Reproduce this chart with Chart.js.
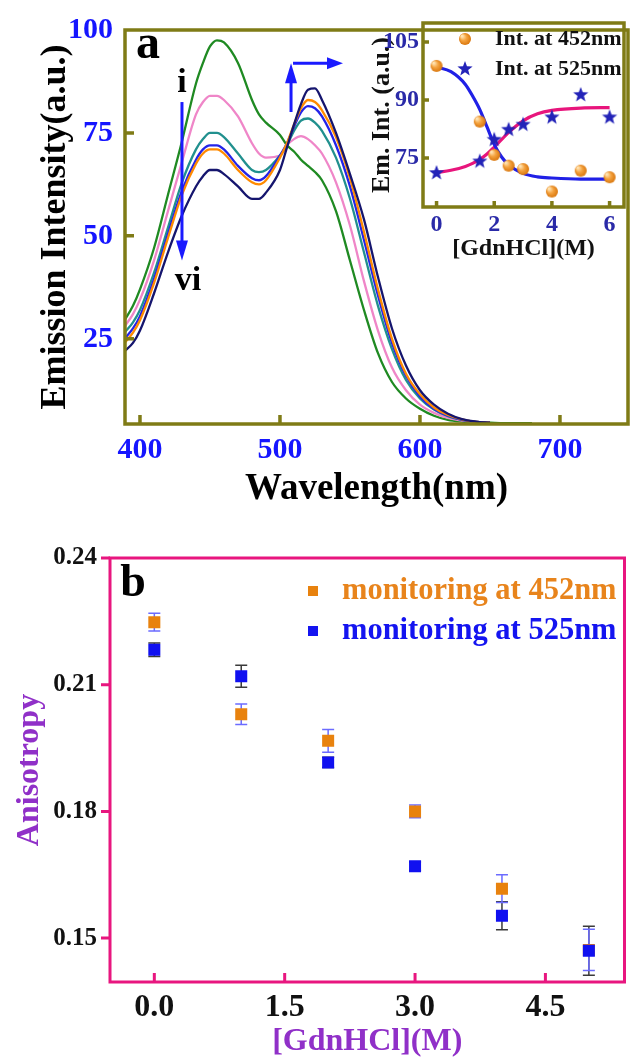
<!DOCTYPE html>
<html>
<head>
<meta charset="utf-8">
<script src="https://cdn.jsdelivr.net/npm/chart.js@4.4.1/dist/chart.umd.min.js"></script>
<style>
	html, body { margin: 0; padding: 0; background: #fff; }
	#wrap { position: relative; width: 633px; height: 1061px; overflow: hidden; }
	canvas { position: absolute; }
</style>
</head>
<body>
<div id="wrap">
	<canvas id="spectra" width="633" height="520" style="left:0;top:0"></canvas>
	<canvas id="inset" width="303" height="265" style="left:330px;top:0"></canvas>
	<canvas id="aniso" width="633" height="531" style="left:0;top:530px"></canvas>
</div>
<script>
// ---- panel a: emission spectra (i -> vi) ----
const wavelengths = [389, 395, 400, 410, 420, 430, 440, 445, 450, 455, 460, 470, 480, 485, 490, 500, 505, 510, 515, 520, 525, 530, 540, 550, 560, 570, 580, 590, 600, 610, 620, 630, 640, 650, 660, 670, 680];
const spectrumI = [29.5, 33, 37, 47, 60, 73, 87, 92, 96, 97.5, 97, 92, 83, 79.5, 77.5, 74.5, 72, 70.5, 68.5, 67, 65.5, 63.5, 56, 44, 32, 21.5, 14.5, 10.5, 8, 6.3, 5.3, 4.9, 4.7, 4.6, 4.5, 4.5, 4.5];
const spectrumII = [28, 31, 34.5, 44, 56, 68, 79.5, 82.5, 84, 84, 83, 79, 72.5, 70, 69, 69.5, 72, 73.5, 74.2, 73.5, 72, 70, 63, 52.5, 39, 27, 18, 12.5, 9, 7, 5.8, 5.1, 4.8, 4.6, null, null, null];
const spectrumIII = [26.5, 29, 32, 41, 52, 63, 71, 73.5, 75, 75, 74, 70, 66, 65.5, 66, 69.5, 72, 75.5, 78, 78.5, 77.5, 75.5, 69, 59, 46, 33, 22.5, 15, 10.5, 7.8, 6.2, 5.3, 4.8, 4.6, null, null, null];
const spectrumIV = [25, 27.5, 30.5, 39.5, 50.5, 61, 68.5, 71, 72, 72, 71, 67, 64, 63.5, 64.5, 69.5, 72.5, 76.5, 80, 81.5, 81, 79, 72, 62, 49, 35.5, 24, 16, 11, 8, 6.3, 5.3, 4.8, 4.6, null, null, null];
const spectrumV = [24, 26.5, 29.5, 38.5, 49.5, 60, 67.5, 70, 71, 71, 70, 66, 63, 62.5, 63.5, 69, 72.5, 77, 81, 83, 82.5, 80.5, 74, 64, 51, 37, 25, 16.5, 11.5, 8.3, 6.5, 5.4, 4.8, 4.6, null, null, null];
const spectrumVI = [22, 24, 27, 36, 46, 55, 62, 64.5, 66, 66, 65, 62, 59, 59, 60.5, 66, 71.5, 77, 82, 85.5, 85.8, 83, 75, 65, 54, 40, 27.5, 18.5, 12.5, 9, 6.8, 5.5, 4.9, 4.6, null, null, null];
const spectraColors = ["#1f8a22", "#ef86c8", "#21908e", "#2424e8", "#ff8a00", "#15156e"];
const waveTicks = [400, 500, 600, 700];
const intensityTicks = [25, 50, 75, 100];

// ---- inset: intensity vs [GdnHCl] ----
const denaturant = [0, 1.5, 2, 2.5, 3, 4, 5, 6];
const int452 = [98.8, 84.4, 75.8, 73, 72.1, 66.3, 71.7, 70];
const int525 = [71.1, 74.1, 79.7, 82.3, 83.6, 85.5, 91.3, 85.5];
const fitX = [0, 0.5, 1, 1.25, 1.5, 1.75, 2, 2.25, 2.5, 3, 3.5, 4, 5, 6];
const fit452 = [98.5, 97.3, 94, 91, 87.5, 83, 78.5, 75.3, 73.2, 71, 70.1, 69.8, 69.5, 69.5];
const fit525 = [71.2, 71.8, 72.8, 73.6, 74.6, 76, 77.8, 79.7, 81.6, 84.6, 86.4, 87.3, 87.9, 88];
const insetXTicks = [0, 2, 4, 6];
const insetYTicks = [75, 90, 105];

// ---- panel b: anisotropy ----
const gdn = [0, 1, 2, 3, 4, 5];
const aniso452 = [0.2248, 0.2030, 0.1967, 0.1800, 0.1617, 0.1472];
const err452 = [0.0021, 0.0024, 0.0027, 0.0015, 0.0033, 0.0049];
const aniso525 = [0.2183, 0.2120, 0.1916, 0.1670, 0.1553, 0.1470];
const err525 = [0.0016, 0.0026, 0.0012, 0.0010, 0.0033, 0.0058];
const gdnTicks = [0, 1.5, 3, 4.5];
const anisoTicks = [0.15, 0.18, 0.21, 0.24];

Chart.defaults.font.family = '"Liberation Serif", "Times New Roman", serif';
Chart.defaults.font.weight = "bold";

const OLIVE = "#7f7b16";
const MAGENTA = "#e8167f";
const TICK_BLUE = "#1515ff";
const INSET_BLUE = "#2a2aa8";
const PURPLE = "#9030c8";

// frame around chart area + tick marks (inward or outward)
function frameTicks(id, cfg) {
	return {
		id,
		afterDatasetsDraw(chart) {
			const { ctx, chartArea: a, scales: { x, y } } = chart;
			ctx.save();
			ctx.strokeStyle = cfg.color;
			ctx.lineWidth = cfg.width;
			ctx.strokeRect(a.left, a.top, a.right - a.left, a.bottom - a.top);
			ctx.beginPath();
			cfg.xTicks.forEach((v) => {
				const px = x.getPixelForValue(v);
				ctx.moveTo(px, a.bottom);
				ctx.lineTo(px, a.bottom + (cfg.xIn ? -cfg.len : cfg.len));
			});
			cfg.yTicks.forEach((v) => {
				const py = y.getPixelForValue(v);
				ctx.moveTo(a.left, py);
				ctx.lineTo(a.left + (cfg.yIn ? cfg.len : -cfg.len), py);
			});
			ctx.stroke();
			ctx.restore();
		},
	};
}

function arrowHead(ctx, x, y, dx, dy, len, half) {
	const n = Math.hypot(dx, dy);
	const ux = dx / n, uy = dy / n;
	ctx.beginPath();
	ctx.moveTo(x, y);
	ctx.lineTo(x - ux * len - uy * half, y - uy * len + ux * half);
	ctx.lineTo(x - ux * len + uy * half, y - uy * len - ux * half);
	ctx.closePath();
	ctx.fill();
}

const spectraNotes = {
	id: "spectraNotes",
	afterDraw(chart) {
		const { ctx, chartArea: a, scales: { x, y } } = chart;
		ctx.save();
		ctx.fillStyle = "#000";
		ctx.font = 'bold 48px "Liberation Serif"';
		ctx.textAlign = "center";
		ctx.textBaseline = "middle";
		ctx.fillText("a", a.left + 23, a.top + 16);
		ctx.font = 'bold 34px "Liberation Serif"';
		ctx.textBaseline = "alphabetic";
		ctx.fillText("i", x.getPixelForValue(430), y.getPixelForValue(84.9));
		ctx.fillText("vi", x.getPixelForValue(434.3), y.getPixelForValue(36.8));

		ctx.strokeStyle = "#1a1aff";
		ctx.fillStyle = "#1a1aff";
		ctx.lineWidth = 3;
		// down arrow i -> vi
		const ax = x.getPixelForValue(430);
		const ay0 = y.getPixelForValue(82.5);
		const ay1 = y.getPixelForValue(44);
		ctx.beginPath();
		ctx.moveTo(ax, ay0);
		ctx.lineTo(ax, ay1 - 12);
		ctx.stroke();
		arrowHead(ctx, ax, ay1, 0, 1, 20, 6);
		// up + right arrow
		const bx = x.getPixelForValue(507.9);
		const by0 = y.getPixelForValue(80.1);
		const by1 = y.getPixelForValue(91.9);
		const bx1 = x.getPixelForValue(545);
		ctx.beginPath();
		ctx.moveTo(bx, by0);
		ctx.lineTo(bx, by1 + 12);
		ctx.moveTo(bx + 2, by1);
		ctx.lineTo(bx1 - 12, by1);
		ctx.stroke();
		arrowHead(ctx, bx, by1, 0, -1, 20, 6);
		arrowHead(ctx, bx1, by1, 1, 0, 16, 6);
		ctx.restore();
	},
};

const spectraSeries = [spectrumI, spectrumII, spectrumIII, spectrumIV, spectrumV, spectrumVI];

new Chart(document.getElementById("spectra"), {
	type: "line",
	data: {
		datasets: spectraSeries.map((vals, i) => ({
			data: wavelengths.map((w, j) => ({ x: w, y: vals[j] })),
			borderColor: spectraColors[i],
			borderWidth: 2.3,
			pointRadius: 0,
			cubicInterpolationMode: "monotone",
			spanGaps: false,
			order: spectraSeries.length - i,
		})),
	},
	options: {
		responsive: false,
		animation: false,
		layout: { padding: { top: 24, right: 5, left: 0, bottom: 0 } },
		plugins: { legend: { display: false }, tooltip: { enabled: false } },
		scales: {
			x: {
				type: "linear",
				min: 389.3,
				max: 748.6,
				afterBuildTicks: (s) => { s.ticks = waveTicks.map((v) => ({ value: v })); },
				afterFit: (s) => { s.height = 96; },
				grid: { display: false, drawTicks: false },
				border: { display: false },
				ticks: { color: TICK_BLUE, font: { size: 30, weight: "bold" }, padding: 8, maxRotation: 0 },
				title: { display: true, text: "Wavelength(nm)", color: "#000", font: { size: 37, weight: "bold" }, padding: { top: 0, bottom: 8 } },
			},
			y: {
				type: "linear",
				min: 4.3,
				max: 100,
				afterBuildTicks: (s) => { s.ticks = intensityTicks.map((v) => ({ value: v })); },
				afterFit: (s) => { s.width = 125; },
				grid: { display: false, drawTicks: false },
				border: { display: false },
				ticks: { color: TICK_BLUE, font: { size: 30, weight: "bold" }, padding: 12 },
				title: { display: true, text: "Emission Intensity(a.u.)", color: "#000", font: { size: 36, weight: "bold" }, padding: { top: 34, bottom: 0 } },
			},
		},
	},
	plugins: [
		frameTicks("spectraFrame", { color: OLIVE, width: 3.5, len: 9, xIn: true, yIn: true, xTicks: waveTicks, yTicks: [25, 50, 75] }),
		spectraNotes,
	],
});

// ---- inset ----
function ballImage(r) {
	const c = document.createElement("canvas");
	c.width = c.height = 2 * r + 2;
	const g = c.getContext("2d");
	const grad = g.createRadialGradient(r - r * 0.35, r - r * 0.35, 1, r + 1, r + 1, r);
	grad.addColorStop(0, "#ffe2b0");
	grad.addColorStop(0.45, "#f5a441");
	grad.addColorStop(1, "#d9760c");
	g.fillStyle = grad;
	g.beginPath();
	g.arc(r + 1, r + 1, r, 0, Math.PI * 2);
	g.fill();
	return c;
}

function starImage(r, color) {
	const c = document.createElement("canvas");
	c.width = c.height = 2 * r + 2;
	const g = c.getContext("2d");
	g.fillStyle = color;
	g.beginPath();
	for (let i = 0; i < 10; i++) {
		const ang = -Math.PI / 2 + (i * Math.PI) / 5;
		const rr = i % 2 ? r * 0.42 : r;
		g.lineTo(r + 1 + rr * Math.cos(ang), r + 1 + rr * Math.sin(ang));
	}
	g.closePath();
	g.fill();
	return c;
}

const ball = ballImage(6);
const star = starImage(8, "#2323b8");

const insetLegend = {
	id: "insetLegend",
	afterDraw(chart) {
		const { ctx, chartArea: a } = chart;
		ctx.save();
		ctx.drawImage(ball, a.left + 42 - ball.width / 2, a.top + 16 - ball.height / 2);
		ctx.drawImage(star, a.left + 42 - star.width / 2, a.top + 46 - star.height / 2);
		ctx.fillStyle = "#111";
		ctx.font = 'bold 22px "Liberation Serif"';
		ctx.textBaseline = "middle";
		ctx.fillText("Int. at 452nm", a.left + 72, a.top + 16);
		ctx.fillText("Int. at 525nm", a.left + 72, a.top + 46);
		ctx.restore();
	},
};

new Chart(document.getElementById("inset"), {
	type: "scatter",
	data: {
		datasets: [
			{
				data: fitX.map((v, i) => ({ x: v, y: fit525[i] })),
				showLine: true, borderColor: "#e8157c", borderWidth: 3.2, pointRadius: 0,
				cubicInterpolationMode: "monotone", order: 4,
			},
			{
				data: fitX.map((v, i) => ({ x: v, y: fit452[i] })),
				showLine: true, borderColor: "#2020e6", borderWidth: 3.2, pointRadius: 0,
				cubicInterpolationMode: "monotone", order: 3,
			},
			{
				data: denaturant.map((v, i) => ({ x: v, y: int452[i] })),
				pointStyle: ball, pointRadius: 6, order: 2,
			},
			{
				data: denaturant.map((v, i) => ({ x: v, y: int525[i] })),
				pointStyle: star, pointRadius: 8, order: 1,
			},
		],
	},
	options: {
		responsive: false,
		animation: false,
		layout: { padding: { top: 23, right: 4, left: 0, bottom: 0 } },
		plugins: { legend: { display: false }, tooltip: { enabled: false } },
		scales: {
			x: {
				type: "linear",
				min: -0.47,
				max: 6.5,
				afterBuildTicks: (s) => { s.ticks = insetXTicks.map((v) => ({ value: v })); },
				afterFit: (s) => { s.height = 58; },
				grid: { display: false, drawTicks: false },
				border: { display: false },
				ticks: { color: INSET_BLUE, font: { size: 24, weight: "bold" }, padding: 3, maxRotation: 0 },
				title: { display: true, text: "[GdnHCl](M)", color: "#111", font: { size: 24, weight: "bold" }, padding: { top: 0, bottom: 2 } },
			},
			y: {
				type: "linear",
				min: 62.3,
				max: 109.9,
				afterBuildTicks: (s) => { s.ticks = insetYTicks.map((v) => ({ value: v })); },
				afterFit: (s) => { s.width = 93; },
				grid: { display: false, drawTicks: false },
				border: { display: false },
				ticks: { color: INSET_BLUE, font: { size: 24, weight: "bold" }, padding: 4 },
				title: { display: true, text: "Em. Int. (a.u.)", color: "#111", font: { size: 26, weight: "bold" }, padding: { top: 37, bottom: 0 } },
			},
		},
	},
	plugins: [
		frameTicks("insetFrame", { color: OLIVE, width: 3.5, len: 6, xIn: true, yIn: true, xTicks: insetXTicks, yTicks: insetYTicks }),
		insetLegend,
	],
});

// ---- panel b ----
const errorBars = {
	id: "errorBars",
	beforeDatasetsDraw(chart) {
		const { ctx, scales: { x, y } } = chart;
		ctx.save();
		ctx.lineWidth = 1.5;
		[[aniso525, err525, "#3a3a3a"], [aniso452, err452, "#6b6bff"]].forEach(([vals, errs, col]) => {
			ctx.strokeStyle = col;
			ctx.beginPath();
			gdn.forEach((g, i) => {
				const px = x.getPixelForValue(g);
				const top = y.getPixelForValue(vals[i] + errs[i]);
				const bot = y.getPixelForValue(vals[i] - errs[i]);
				ctx.moveTo(px, top);
				ctx.lineTo(px, bot);
				ctx.moveTo(px - 6, top);
				ctx.lineTo(px + 6, top);
				ctx.moveTo(px - 6, bot);
				ctx.lineTo(px + 6, bot);
			});
			ctx.stroke();
		});
		ctx.restore();
	},
};

const anisoNotes = {
	id: "anisoNotes",
	afterDraw(chart) {
		const { ctx, chartArea: a } = chart;
		ctx.save();
		ctx.fillStyle = "#000";
		ctx.font = 'bold 46px "Liberation Serif"';
		ctx.textAlign = "center";
		ctx.textBaseline = "middle";
		ctx.fillText("b", a.left + 23, a.top + 26);
		ctx.textAlign = "left";
		ctx.font = 'bold 30.5px "Liberation Serif"';
		ctx.fillStyle = "#e8820e";
		ctx.fillRect(a.left + 198, a.top + 28, 10, 10);
		ctx.fillStyle = "#e8841c";
		ctx.fillText("monitoring at 452nm", a.left + 232, a.top + 33);
		ctx.fillStyle = "#1414f0";
		ctx.fillRect(a.left + 198, a.top + 68, 10, 10);
		ctx.fillText("monitoring at 525nm", a.left + 232, a.top + 73);
		ctx.restore();
	},
};

new Chart(document.getElementById("aniso"), {
	type: "scatter",
	data: {
		datasets: [
			{
				data: gdn.map((v, i) => ({ x: v, y: aniso452[i] })),
				pointStyle: "rect", pointRadius: 8.5, borderWidth: 0,
				backgroundColor: "#e8820e", borderColor: "#e8820e", order: 2,
			},
			{
				data: gdn.map((v, i) => ({ x: v, y: aniso525[i] })),
				pointStyle: "rect", pointRadius: 8.5, borderWidth: 0,
				backgroundColor: "#1010f0", borderColor: "#1010f0", order: 1,
			},
		],
	},
	options: {
		responsive: false,
		animation: false,
		layout: { padding: { top: 25, right: 3, left: 0, bottom: 0 } },
		plugins: { legend: { display: false }, tooltip: { enabled: false } },
		scales: {
			x: {
				type: "linear",
				min: -0.51,
				max: 5.41,
				afterBuildTicks: (s) => { s.ticks = gdnTicks.map((v) => ({ value: v })); },
				afterFit: (s) => { s.height = 79; },
				grid: { display: false, drawTicks: false },
				border: { display: false },
				ticks: { color: "#111", font: { size: 32, weight: "bold" }, padding: 7, maxRotation: 0, callback: (v) => Number(v).toFixed(1) },
				title: { display: true, text: "[GdnHCl](M)", color: PURPLE, font: { size: 32, weight: "bold" }, padding: { top: 0, bottom: 0 } },
			},
			y: {
				type: "linear",
				min: 0.1396,
				max: 0.24,
				afterBuildTicks: (s) => { s.ticks = anisoTicks.map((v) => ({ value: v })); },
				afterFit: (s) => { s.width = 110; },
				grid: { display: false, drawTicks: false },
				border: { display: false },
				ticks: { color: "#111", font: { size: 25, weight: "bold" }, padding: 13, callback: (v) => Number(v).toFixed(2) },
				title: { display: true, text: "Anisotropy", color: PURPLE, font: { size: 32, weight: "bold" }, padding: { top: 11, bottom: 0 } },
			},
		},
	},
	plugins: [
		errorBars,
		frameTicks("anisoFrame", { color: MAGENTA, width: 3, len: 9, xIn: true, yIn: false, xTicks: gdnTicks, yTicks: anisoTicks }),
		anisoNotes,
	],
});
</script>
</body>
</html>
